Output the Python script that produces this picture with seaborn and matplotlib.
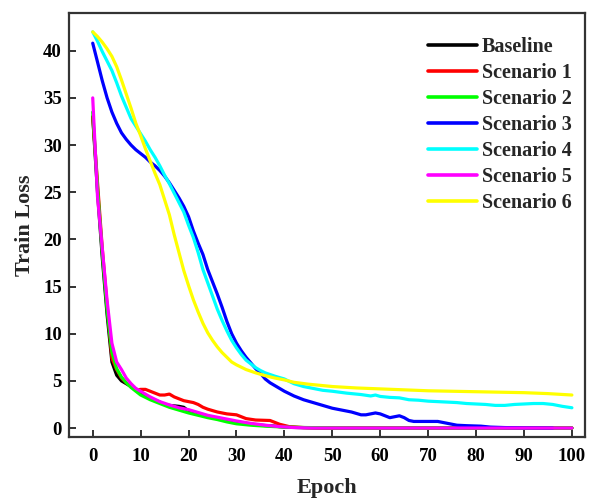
import matplotlib
matplotlib.use("Agg")
import matplotlib.pyplot as plt
import seaborn as sns
import pandas as pd

# Training loss per epoch for each configuration
baseline_epoch = [0, 1, 2, 3, 4, 5, 6, 7, 8, 9, 10, 11, 12, 13, 14, 15, 16, 17, 18, 19, 20, 21, 22,
                  24, 26, 28, 30, 32, 35, 38, 40, 43, 46, 50, 60, 70, 80, 90, 100]
baseline_loss = [33.0, 25.0, 18.0, 12.0, 7.0, 5.6, 5.0, 4.7, 4.4, 4.15, 3.8, 3.4, 3.1, 2.95, 2.75, 2.5,
                 2.4, 2.35, 2.3, 2.2, 1.8, 1.6, 1.5, 1.25, 1.05, 0.8, 0.6, 0.45, 0.3, 0.2, 0.1, 0.05,
                 0.02, 0.0, 0.0, 0.0, 0.0, 0.0, 0.0]

scen1_epoch = [0, 1, 2, 3, 4, 5, 6, 7, 8, 9, 10, 11, 12, 13, 14, 15, 16, 17, 18, 19, 20, 21, 22, 23,
               24, 26, 28, 30, 32, 34, 37, 39, 41, 44, 48, 60, 70, 80, 90, 100]
scen1_loss = [33.0, 26.0, 19.0, 13.0, 7.4, 6.2, 5.3, 4.8, 4.4, 4.0, 4.1, 4.1, 3.9, 3.7, 3.5, 3.5,
              3.6, 3.3, 3.1, 2.9, 2.8, 2.7, 2.5, 2.2, 2.0, 1.7, 1.5, 1.4, 1.0, 0.85, 0.8, 0.4, 0.15,
              0.05, 0.0, 0.0, 0.0, 0.0, 0.0, 0.0]

scen2_epoch = [0, 1, 2, 3, 4, 5, 6, 7, 8, 9, 10, 12, 14, 16, 18, 20, 22, 24, 26, 28, 30, 33, 36, 40,
               45, 50, 55, 60, 70, 80, 90, 100]
scen2_loss = [33.5, 25.5, 18.5, 12.5, 8.0, 6.3, 5.4, 4.8, 4.3, 3.9, 3.5, 3.0, 2.6, 2.2, 1.9, 1.6,
              1.35, 1.1, 0.9, 0.65, 0.45, 0.3, 0.2, 0.1, 0.05, 0.02, 0.0, 0.0, 0.0, 0.0, 0.0, 0.0]

scen3_epoch = [0, 1, 2, 3, 4, 5, 6, 7, 8, 9, 10, 11, 12, 13, 14, 15, 16, 17, 18, 19, 20, 21, 22, 23,
               24, 25, 26, 27, 28, 29, 30, 31, 32, 33, 34, 35, 36, 37, 38, 39, 40, 42, 44, 46, 48,
               50, 52, 54, 56, 57, 59, 60, 61, 62, 63, 64, 65, 66, 67, 69, 72, 74, 76, 78, 81, 83,
               86, 90, 96]
scen3_loss = [40.8, 38.8, 36.8, 35.0, 33.5, 32.3, 31.3, 30.6, 30.0, 29.5, 29.1, 28.7, 28.2, 27.8,
              27.3, 26.7, 26.0, 25.2, 24.4, 23.5, 22.4, 20.9, 19.6, 18.4, 16.8, 15.5, 14.2, 12.8,
              11.3, 10.0, 9.0, 8.2, 7.5, 6.9, 6.3, 5.8, 5.2, 4.8, 4.5, 4.2, 3.9, 3.4, 3.0, 2.7, 2.4,
              2.1, 1.9, 1.7, 1.4, 1.4, 1.6, 1.5, 1.3, 1.1, 1.2, 1.3, 1.1, 0.8, 0.7, 0.7, 0.7, 0.5,
              0.3, 0.25, 0.2, 0.1, 0.05, 0.02, 0.0]

scen4_epoch = [0, 1, 2, 3, 4, 5, 6, 7, 8, 9, 10, 11, 12, 13, 14, 15, 16, 17, 18, 19, 20, 21, 22, 23,
               24, 25, 26, 27, 28, 29, 30, 31, 32, 33, 34, 35, 36, 38, 40, 42, 44, 46, 48, 50, 53,
               56, 58, 59, 60, 62, 64, 66, 68, 70, 72, 74, 76, 78, 80, 82, 84, 86, 88, 90, 92, 94,
               96, 98, 100]
scen4_loss = [42.0, 41.0, 39.9, 38.9, 37.9, 36.6, 35.2, 34.0, 32.8, 32.0, 31.2, 30.4, 29.5, 28.7,
              27.8, 26.8, 25.9, 24.9, 23.9, 22.9, 21.5, 20.2, 18.6, 16.8, 15.4, 14.0, 12.6, 11.4,
              10.3, 9.3, 8.5, 7.8, 7.2, 6.8, 6.4, 6.1, 5.85, 5.5, 5.2, 4.7, 4.4, 4.2, 4.0, 3.9, 3.7,
              3.55, 3.4, 3.5, 3.35, 3.25, 3.2, 3.0, 2.95, 2.85, 2.8, 2.75, 2.7, 2.6, 2.55, 2.5, 2.4,
              2.4, 2.5, 2.55, 2.6, 2.6, 2.5, 2.3, 2.15]

scen5_epoch = [0, 1, 2, 3, 4, 5, 6, 7, 8, 9, 10, 11, 12, 14, 16, 18, 20, 22, 24, 26, 28, 30, 33, 36,
               39, 42, 46, 60, 70, 80, 90, 100]
scen5_loss = [35.0, 24.5, 19.0, 13.5, 9.0, 7.0, 6.2, 5.3, 4.7, 4.2, 3.9, 3.6, 3.3, 2.8, 2.45, 2.15,
              1.95, 1.65, 1.35, 1.15, 0.95, 0.75, 0.5, 0.3, 0.15, 0.05, 0.0, 0.0, 0.0, 0.0, 0.0, 0.0]

scen6_epoch = [0, 1, 2, 3, 4, 5, 6, 7, 8, 9, 10, 11, 12, 13, 14, 15, 16, 17, 18, 19, 20, 21, 22, 23,
               24, 25, 26, 27, 28, 29, 30, 32, 34, 36, 38, 40, 42, 45, 50, 55, 60, 65, 70, 75, 80,
               85, 90, 95, 100]
scen6_loss = [42.0, 41.5, 40.9, 40.2, 39.4, 38.3, 36.9, 35.4, 33.9, 32.3, 31.0, 29.6, 28.3, 27.0,
              25.8, 24.2, 22.6, 20.5, 18.6, 16.7, 15.1, 13.6, 12.3, 11.1, 10.1, 9.3, 8.6, 8.0, 7.5,
              7.0, 6.7, 6.2, 5.85, 5.55, 5.3, 5.1, 4.85, 4.65, 4.4, 4.25, 4.15, 4.05, 3.95, 3.9,
              3.85, 3.8, 3.75, 3.65, 3.5]

series_names = ["Baseline", "Scenario 1", "Scenario 2", "Scenario 3",
                "Scenario 4", "Scenario 5", "Scenario 6"]
series_colors = ["#000000", "#ff0000", "#00ff00", "#0000ff", "#00ffff", "#ff00ff", "#ffff00"]
x_ticks = list(range(0, 101, 10))
y_ticks = list(range(0, 41, 5))

epochs = [baseline_epoch, scen1_epoch, scen2_epoch, scen3_epoch, scen4_epoch, scen5_epoch, scen6_epoch]
losses = [baseline_loss, scen1_loss, scen2_loss, scen3_loss, scen4_loss, scen5_loss, scen6_loss]

frames = []
for name, ep, ls in zip(series_names, epochs, losses):
    frames.append(pd.DataFrame({"Epoch": ep, "Train Loss": ls, "Run": name}))
df = pd.concat(frames, ignore_index=True)

sns.set_style("ticks")
plt.rcParams["font.family"] = ["Liberation Serif", "DejaVu Serif"]
plt.rcParams["font.weight"] = "bold"
plt.rcParams["xtick.direction"] = "in"
plt.rcParams["ytick.direction"] = "in"

fig = plt.figure(figsize=(5.98, 5.0), dpi=100)
ax = fig.add_axes([0.115, 0.126, 0.863, 0.848])

sns.lineplot(data=df, x="Epoch", y="Train Loss", hue="Run", hue_order=series_names,
             palette=dict(zip(series_names, series_colors)), linewidth=2.3,
             estimator=None, sort=True, ax=ax)

ax.set_xlim(-5, 102.7)
ax.set_ylim(-0.95, 44)
ax.set_xticks(x_ticks)
ax.set_yticks(y_ticks)
ax.tick_params(axis="both", labelsize=13.5, length=5, width=1.3, colors="#222222",
               labelcolor="black")
ax.tick_params(axis="x", pad=8)
ax.tick_params(axis="y", pad=5)
for lbl in ax.get_xticklabels() + ax.get_yticklabels():
    lbl.set_fontweight("bold")
for sp in ax.spines.values():
    sp.set_linewidth(1.6)
    sp.set_color("#333333")

ax.set_xlabel("Epoch", fontsize=16, fontweight="bold", labelpad=9)
ax.set_ylabel("Train Loss", fontsize=16, fontweight="bold", labelpad=6)

leg = ax.legend(loc="upper left", bbox_to_anchor=(0.697, 0.943), frameon=False,
                prop={"size": 14.5, "weight": "bold"}, handlelength=2.4,
                handletextpad=0.25, labelspacing=0.3, borderpad=0, borderaxespad=0)
for line in leg.get_lines():
    line.set_linewidth(2.6)

fig.savefig("out.png", dpi=100)
